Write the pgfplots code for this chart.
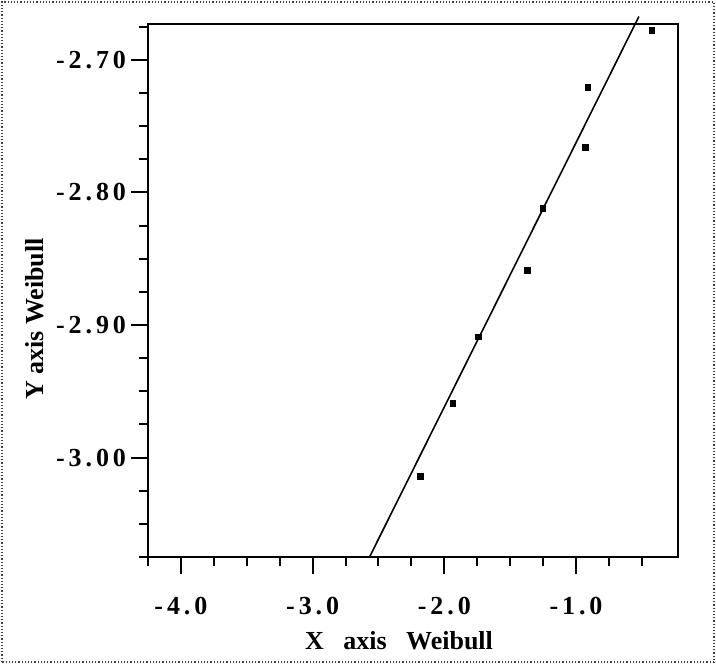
\documentclass[border=0pt]{standalone}
\usepackage{fontspec}
\setmainfont{Liberation Serif}
\newfontfamily\tickfont[LetterSpace=15]{Liberation Serif}
\usepackage{pgfplots}
\pgfplotsset{compat=1.18}

\begin{document}
\begin{tikzpicture}
  % page = 716 x 664 px at 0.5pt per px
  \useasboundingbox (-74pt,-53.5pt) rectangle (284pt,278.5pt);
  \draw[densely dotted, line width=0.6pt, black!75] (-73pt,-52.5pt) rectangle (283pt,277.5pt);
  \begin{axis}[
    at={(0,0)}, anchor=south west,
    scale only axis,
    width=265pt, height=266.5pt,
    xmin=-4.25, xmax=-0.226,
    ymin=-3.075, ymax=-2.673,
    axis line style={line width=1pt},
    tick style={line width=1pt, black},
    tick align=outside,
    tick pos=left,
    major tick length=8.5pt,
    minor tick length=4.5pt,
    xtick={-4,-3,-2,-1},
    xticklabels={-4.0,-3.0,-2.0,-1.0},
    minor xtick={-4.25,-3.75,-3.5,-3.25,-2.75,-2.5,-2.25,-1.75,-1.5,-1.25,-0.75,-0.5},
    ytick={-3.0,-2.9,-2.8,-2.7},
    yticklabels={-3.00,-2.90,-2.80,-2.70},
    minor ytick={-3.075,-3.05,-3.025,-2.975,-2.95,-2.925,-2.875,-2.85,-2.825,-2.775,-2.75,-2.725,-2.675},
    ticklabel style={font=\tickfont\bfseries\fontsize{13}{15}\selectfont},
    xticklabel style={yshift=-8pt},
    yticklabel style={xshift=1pt},
    xlabel={X\hspace{0.75em}axis\hspace{0.75em}Weibull},
    ylabel={Y axis Weibull},
    label style={font=\bfseries\fontsize{13}{15}\selectfont},
    xlabel style={at={(axis description cs:0.4736,-0.1726)}, anchor=base},
    ylabel style={at={(axis description cs:-0.198,0.4465)}, anchor=base},
    clip=false,
  ]
    \addplot[black, line width=0.8pt] coordinates {(-2.568,-3.075) (-0.523,-2.6674)};
    \addplot[only marks, mark=square*, mark size=1.4pt, black] coordinates {
      (-0.423,-2.678)
      (-0.911,-2.721)
      (-0.931,-2.766)
      (-1.253,-2.812)
      (-1.371,-2.859)
      (-1.740,-2.909)
      (-1.935,-2.959)
      (-2.181,-3.014)
    };
  \end{axis}
\end{tikzpicture}
\end{document}
